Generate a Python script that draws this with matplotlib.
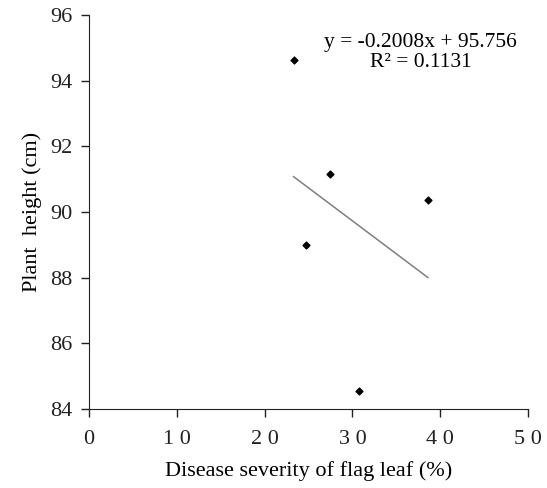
import matplotlib.pyplot as plt
import numpy as np

# data
severity = [23.3, 27.4, 24.7, 38.6, 30.75]
height = [94.62, 91.17, 89.01, 90.36, 84.54]
slope = -0.2008
intercept = 95.756
x_ticks = [0, 10, 20, 30, 40, 50]
x_labels = ["0", "1 0", "2 0", "3 0", "4 0", "5 0"]
y_ticks = [84, 86, 88, 90, 92, 94, 96]

plt.rcParams["font.family"] = ["Liberation Serif", "DejaVu Serif"]

fig = plt.figure(figsize=(5.47, 4.88), dpi=100)
ax = fig.add_axes([0.163, 0.162, 0.802, 0.807])

ax.scatter(severity, height, marker="D", s=12, color="black", zorder=3)

# linear trendline across the data range
xs = np.array([min(severity), max(severity)])
ax.plot(xs, slope * xs + intercept, color="#7f7f7f", linewidth=1.1)

ax.text(37.8, 94.87, "y = -0.2008x + 95.756\nR² = 0.1131",
        ha="center", va="center", fontsize=15.5, linespacing=1.05)

ax.set_xlim(0, 50)
ax.set_ylim(84, 96)
ax.set_xticks(x_ticks)
ax.set_xticklabels(x_labels)
ax.set_yticks(y_ticks)
ax.tick_params(direction="out", length=6, width=1, labelsize=16,
               colors="#222222")
ax.tick_params(axis="x", pad=9)
ax.tick_params(axis="y", pad=6)

for side in ["top", "right"]:
    ax.spines[side].set_visible(False)
for side in ["left", "bottom"]:
    ax.spines[side].set_color("#222222")

ax.set_xlabel("Disease severity of flag leaf (%)", fontsize=16, labelpad=9)
ax.set_ylabel("Plant  height (cm)", fontsize=16, labelpad=6)

fig.savefig("out.png", dpi=100)
